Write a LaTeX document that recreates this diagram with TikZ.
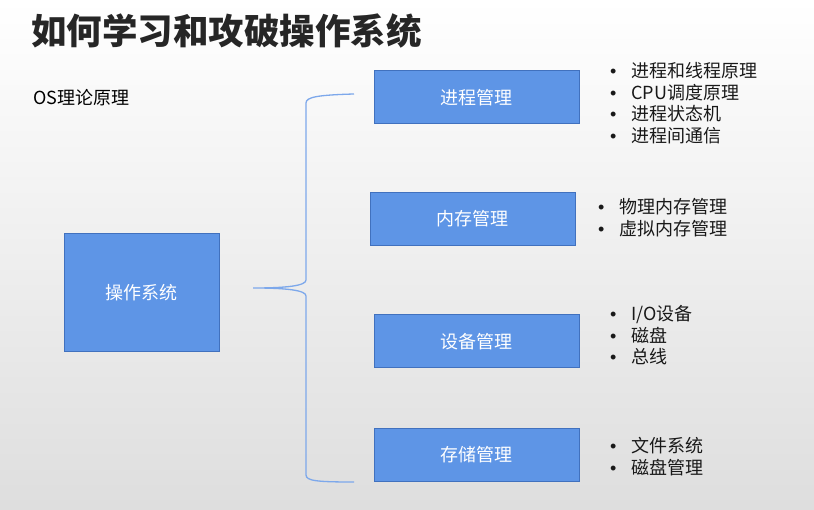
\documentclass[tikz,border=0pt]{standalone}
\usepackage{fontspec}
\setmainfont{Noto Sans CJK SC}
\newfontfamily\latinfont{Liberation Sans}
\usetikzlibrary{positioning}

\definecolor{boxblue}{RGB}{94,149,230}
\definecolor{boxline}{RGB}{65,113,190}
\definecolor{bracecol}{RGB}{125,168,235}
\definecolor{titlegray}{RGB}{38,38,38}
\newcommand{\itm}{\makebox[21pt][l]{\latinfont •}}

\begin{document}
\begin{tikzpicture}[
  x=1pt, y=-1pt,
  box/.style={rectangle, draw=boxline, fill=boxblue, line width=1pt, minimum width=205pt,
              minimum height=53pt, text=white, font=\fontsize{18}{22}\selectfont, inner sep=0pt},
  list/.style={anchor=west, align=left, inner sep=0pt, text=black!90,
               font=\fontsize{18}{21.5}\selectfont},
  brace/.style={draw=bracecol, line width=1.3pt},
]
  \shade[top color=white, bottom color=black!13] (0,0) rectangle (814,510);
  \useasboundingbox (0,0) rectangle (814,510);

  \node[anchor=west, inner sep=0pt, text=titlegray, font=\fontsize{35.5}{40}\selectfont\bfseries]
       (title) at (31,31) {如何学习和攻破操作系统};
  \node[anchor=west, inner sep=0pt, font=\fontsize{18}{22}\selectfont] (theory) at (33,98) {OS理论原理};

  \node[box, minimum width=155pt, minimum height=118pt] (os) at (141.5,293) {操作系统};
  \node[box] (proc) at (476.5,97.5) {进程管理};
  \node[box] (mem) at (472.5,219) {内存管理};
  \node[box] (dev) at (476.5,341.5) {设备管理};
  \node[box] (store) at (476.5,455) {存储管理};

  \node[list] (proclist) at (610,103)
       {\itm 进程和线程原理\\ \itm CPU调度原理\\ \itm 进程状态机\\ \itm 进程间通信};
  \node[list] (memlist) at (598,217.5) {\itm 物理内存管理\\ \itm 虚拟内存管理};
  \node[list] (devlist) at (610,335.5) {\itm I/O设备\\ \itm 磁盘\\ \itm 总线};
  \node[list] (storelist) at (610,456.5) {\itm 文件系统\\ \itm 磁盘管理};

  % brace from os to the four parts
  \coordinate (btop) at (354,94);
  \coordinate (btip) at (253,288);
  \coordinate (bbot) at (354,482);
  \draw[brace] (btop) .. controls (318,95) and (306,97) .. (306,103) -- (306,280)
    .. controls (306,286) and (285,288) .. (btip)
    .. controls (285,288) and (306,290) .. (306,296) -- (306,475)
    .. controls (306,481) and (318,482) .. (bbot);
\end{tikzpicture}
\end{document}
